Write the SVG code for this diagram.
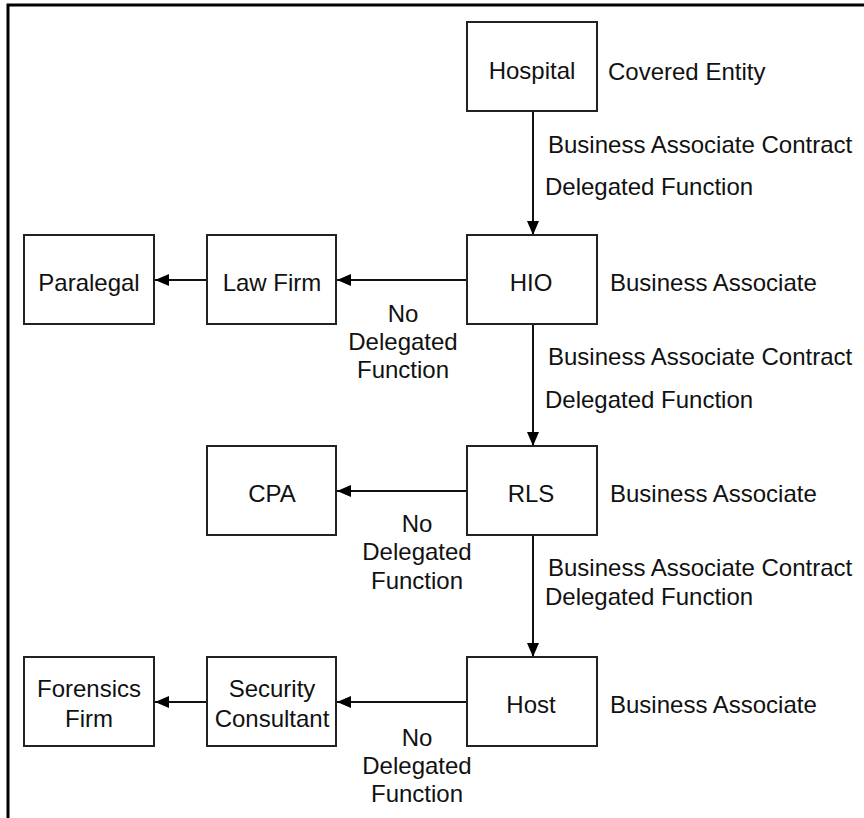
<svg xmlns="http://www.w3.org/2000/svg" width="864" height="818" viewBox="0 0 864 818">
<defs>
<marker id="ah" viewBox="0 0 14 12" refX="14" refY="6" markerWidth="14" markerHeight="12" markerUnits="userSpaceOnUse" orient="auto">
<path d="M0,0 L14,6 L0,12 Z" fill="#000"/>
</marker>
<style>
.box{fill:#fff;stroke:#222;stroke-width:2}
.t{font-family:"Liberation Sans",Arial,sans-serif;font-size:24px;fill:#111}
.c{text-anchor:middle}
.e{stroke:#111;stroke-width:2;fill:none;marker-end:url(#ah)}
.frame{stroke:#000;stroke-width:3;fill:none}
</style>
</defs>
<rect width="864" height="818" fill="#fff"/>
<path class="frame" d="M8,818 L8,5 L864,5"/>
<g id="connectors">
<line class="e" x1="533" y1="111" x2="533" y2="235"/>
<line class="e" x1="533" y1="324" x2="533" y2="446"/>
<line class="e" x1="533" y1="535" x2="533" y2="657"/>
<line class="e" x1="467" y1="280" x2="337" y2="280"/>
<line class="e" x1="207" y1="280" x2="155" y2="280"/>
<line class="e" x1="467" y1="491" x2="337" y2="491"/>
<line class="e" x1="467" y1="702" x2="337" y2="702"/>
<line class="e" x1="207" y1="702" x2="155" y2="702"/>
<text class="t" x="548" y="153">Business Associate Contract</text>
<text class="t" x="545" y="195">Delegated Function</text>
<text class="t" x="548" y="365">Business Associate Contract</text>
<text class="t" x="545" y="408">Delegated Function</text>
<text class="t" x="548" y="576">Business Associate Contract</text>
<text class="t" x="545" y="605">Delegated Function</text>
<text class="t c" x="403" y="322">No</text>
<text class="t c" x="403" y="350">Delegated</text>
<text class="t c" x="403" y="378">Function</text>
<text class="t c" x="417" y="532">No</text>
<text class="t c" x="417" y="560">Delegated</text>
<text class="t c" x="417" y="589">Function</text>
<text class="t c" x="417" y="746">No</text>
<text class="t c" x="417" y="774">Delegated</text>
<text class="t c" x="417" y="802">Function</text>
</g>
<g id="hospital">
<rect class="box" x="467" y="22" width="130" height="89"/>
<text class="t c" x="532" y="79">Hospital</text>
<text class="t" x="608" y="80">Covered Entity</text>
</g>
<g id="hio">
<rect class="box" x="467" y="235" width="130" height="89"/>
<text class="t c" x="531" y="291">HIO</text>
<text class="t" x="610" y="291">Business Associate</text>
</g>
<g id="lawfirm">
<rect class="box" x="207" y="235" width="129" height="89"/>
<text class="t c" x="272" y="291">Law Firm</text>
</g>
<g id="paralegal">
<rect class="box" x="24" y="235" width="130" height="89"/>
<text class="t c" x="89" y="291">Paralegal</text>
</g>
<g id="rls">
<rect class="box" x="467" y="446" width="130" height="89"/>
<text class="t c" x="531" y="502">RLS</text>
<text class="t" x="610" y="502">Business Associate</text>
</g>
<g id="cpa">
<rect class="box" x="207" y="446" width="129" height="89"/>
<text class="t c" x="272" y="502">CPA</text>
</g>
<g id="host">
<rect class="box" x="467" y="657" width="130" height="89"/>
<text class="t c" x="531" y="713">Host</text>
<text class="t" x="610" y="713">Business Associate</text>
</g>
<g id="security">
<rect class="box" x="207" y="657" width="129" height="89"/>
<text class="t c" x="272" y="697">Security</text>
<text class="t c" x="272" y="727">Consultant</text>
</g>
<g id="forensics">
<rect class="box" x="24" y="657" width="130" height="89"/>
<text class="t c" x="89" y="697">Forensics</text>
<text class="t c" x="89" y="727">Firm</text>
</g>
</svg>
